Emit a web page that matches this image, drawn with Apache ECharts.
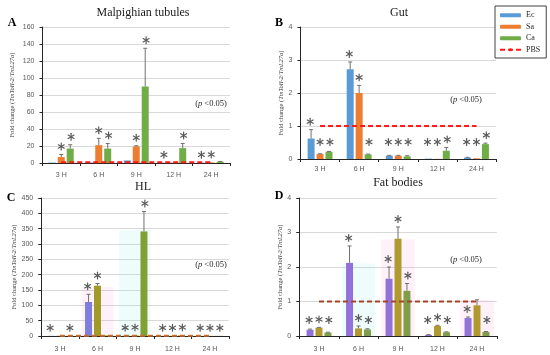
<!DOCTYPE html>
<html><head><meta charset="utf-8">
<script src="https://cdn.jsdelivr.net/npm/echarts@6/dist/echarts.min.js"></script>
<style>html,body{margin:0;padding:0;background:#fff}#c{width:550px;height:355px}</style>
</head><body><div id="c"></div>
<script>
const categories = ['3 H', '6 H', '9 H', '12 H', '24 H'];
const pbsLevel = [1, 1, 1, 1, 1];

// Panel A: Malpighian tubules
const A_Ec = [0.5, 0.6, 3, 0.3, 0.3];
const A_Ec_err = [0, 0, 0, 0, 0];
const A_Ec_sig = [0, 0, 0, 1, 1];
const A_Sa = [7, 21, 19.5, 0.5, 0.6];
const A_Sa_err = [3, 8, 0.8, 0, 0];
const A_Sa_sig = [1, 1, 1, 0, 1];
const A_Ca = [17, 17, 90, 17.5, 1.5];
const A_Ca_err = [4.5, 6, 45, 5.5, 0.3];
const A_Ca_sig = [1, 1, 1, 1, 0];
const A_ticks = [0, 20, 40, 60, 80, 100, 120, 140, 160];

// Panel B: Gut
const B_Ec = [0.62, 2.72, 0.1, 0.01, 0.04];
const B_Ec_err = [0.27, 0.22, 0.01, 0, 0.01];
const B_Ec_sig = [1, 1, 1, 1, 1];
const B_Sa = [0.15, 2.0, 0.1, 0.005, 0.02];
const B_Sa_err = [0.01, 0.23, 0.01, 0, 0];
const B_Sa_sig = [1, 1, 1, 1, 1];
const B_Ca = [0.22, 0.14, 0.08, 0.25, 0.45];
const B_Ca_err = [0.01, 0.01, 0.02, 0.1, 0.03];
const B_Ca_sig = [1, 1, 1, 1, 1];
const B_ticks = [0, 1, 2, 3, 4];

// Panel C: HL
const C_Ec = [0.5, 111, 1, 0.5, 0.5];
const C_Ec_err = [0, 25, 0, 0, 0];
const C_Ec_sig = [1, 1, 1, 1, 1];
const C_Sa = [1, 164, 2, 0.5, 0.5];
const C_Sa_err = [0, 7, 0, 0, 0];
const C_Sa_sig = [0, 1, 1, 1, 1];
const C_Ca = [0.5, 2, 341, 2, 0.5];
const C_Ca_err = [0, 0, 65, 0, 0];
const C_Ca_sig = [1, 0, 1, 1, 1];
const C_ticks = [0, 50, 100, 150, 200, 250, 300, 350, 400, 450];
// faint background tints seen in the scanned figure: [category index, top value]
const C_tintPink = [[1, 160]];
const C_tintCyan = [[2, 345]];

// Panel D: Fat bodies
const D_Ec = [0.18, 2.12, 1.66, 0.03, 0.52];
const D_Ec_err = [0.02, 0.49, 0.34, 0.01, 0.03];
const D_Ec_sig = [1, 1, 1, 1, 1];
const D_Sa = [0.24, 0.22, 2.82, 0.29, 0.89];
const D_Sa_err = [0.01, 0.07, 0.34, 0.02, 0.16];
const D_Sa_sig = [1, 1, 1, 1, 0];
const D_Ca = [0.1, 0.19, 1.31, 0.11, 0.12];
const D_Ca_err = [0.01, 0.02, 0.21, 0.01, 0.01];
const D_Ca_sig = [1, 1, 1, 1, 1];
const D_ticks = [0, 1, 2, 3, 4];
const D_tintPink = [[2, 2.8], [4, 1.05]];
const D_tintCyan = [[1, 2.1]];

const chart = echarts.init(document.getElementById('c'), null, {renderer: 'canvas'});

const BW = 7, GAP_PCT = 28;
const STEP = BW + BW * GAP_PCT / 100;
const OFFS = [-STEP, 0, STEP];
const STAR_SPREAD = 1.1;

const panels = [
  {grid: {left: 42.5, top: 27, width: 187.5, height: 136}, ticks: A_ticks, interval: 20,
   names: ['A-Ec', 'A-Sa', 'A-Ca', 'A-PBS'], colors: ['#5B9BD5', '#ED7D31', '#70AD47'], pbsColor: '#FF1A1A',
   vals: [A_Ec, A_Sa, A_Ca], errs: [A_Ec_err, A_Sa_err, A_Ca_err], sigs: [A_Ec_sig, A_Sa_sig, A_Ca_sig], minRise: 7, nameGap: 27, labelMargin: 9},
  {grid: {left: 300.5, top: 27, width: 195.5, height: 132}, ticks: B_ticks, interval: 1,
   names: ['Ec', 'Sa', 'Ca', 'PBS'], colors: ['#5B9BD5', '#ED7D31', '#70AD47'], pbsColor: '#FF1A1A',
   vals: [B_Ec, B_Sa, B_Ca], errs: [B_Ec_err, B_Sa_err, B_Ca_err], sigs: [B_Ec_sig, B_Sa_sig, B_Ca_sig], minRise: 17, nameGap: 16, labelMargin: 7},
  {grid: {left: 41.25, top: 198, width: 187.5, height: 138}, ticks: C_ticks, interval: 50,
   names: ['C-Ec', 'C-Sa', 'C-Ca', 'C-PBS'], colors: ['#7E7EDC', '#A09A28', '#80A034'], pbsColor: '#C8702A',
   vals: [C_Ec, C_Sa, C_Ca], errs: [C_Ec_err, C_Sa_err, C_Ca_err], sigs: [C_Ec_sig, C_Sa_sig, C_Ca_sig], minRise: 8, nameGap: 23, labelMargin: 10,
   tints: [[C_tintPink, 'rgba(255,120,200,0.10)'], [C_tintCyan, 'rgba(120,235,235,0.13)']]},
  {grid: {left: 299.25, top: 198, width: 197.5, height: 138}, ticks: D_ticks, interval: 1,
   names: ['D-Ec', 'D-Sa', 'D-Ca', 'D-PBS'], colors: ['#9272D8', '#B09A30', '#7F9E4A'], pbsColor: '#A2452A',
   vals: [D_Ec, D_Sa, D_Ca], errs: [D_Ec_err, D_Sa_err, D_Ca_err], sigs: [D_Ec_sig, D_Sa_sig, D_Ca_sig], minRise: 16, nameGap: 15, labelMargin: 10,
   tints: [[D_tintPink, 'rgba(255,120,200,0.10)'], [D_tintCyan, 'rgba(120,235,235,0.13)']]}
];

const grids = [], xAxes = [], yAxes = [], series = [];

function errStarSeries(gi, vals, errs, sig, offset, minRise) {
  return {
    type: 'custom', xAxisIndex: gi, yAxisIndex: gi, z: 6, silent: true,
    data: vals.map((v, i) => [i, v, errs[i], sig[i]]),
    renderItem(params, api) {
      const i = api.value(0), v = api.value(1), e = api.value(2), s = api.value(3);
      const base = api.coord([i, 0]);
      const bot = api.coord([i, v]);
      const top = api.coord([i, v + e]);
      const x = base[0] + offset;
      const ch = [];
      if (e > 0) {
        ch.push({type: 'line', shape: {x1: x, y1: bot[1], x2: x, y2: top[1]}, style: {stroke: '#707070', lineWidth: 1}});
        ch.push({type: 'line', shape: {x1: x - 2, y1: top[1], x2: x + 2, y2: top[1]}, style: {stroke: '#707070', lineWidth: 1}});
      }
      if (s) {
        const cy = Math.min(top[1] - 8, base[1] - minRise);
        const sx = base[0] + offset * STAR_SPREAD;
        const r = 3.4;
        [90, 30, 150].forEach(a => {
          const rad = a * Math.PI / 180;
          const dx = r * Math.cos(rad), dy = r * Math.sin(rad);
          ch.push({type: 'line', shape: {x1: sx - dx, y1: cy - dy, x2: sx + dx, y2: cy + dy},
                   style: {stroke: '#5a5a5a', lineWidth: 1.2, lineCap: 'round'}});
        });
      }
      return {type: 'group', children: ch};
    }
  };
}

function tintSeries(gi, list, color) {
  return {
    type: 'custom', xAxisIndex: gi, yAxisIndex: gi, z: 1, silent: true,
    data: list,
    renderItem(params, api) {
      const c0 = api.coord([api.value(0), 0]);
      const c1 = api.coord([api.value(0), api.value(1)]);
      const w = api.size([1, 0])[0] * 0.85;
      return {type: 'rect', shape: {x: c0[0] - w / 2, y: c1[1], width: w, height: c0[1] - c1[1]}, style: {fill: color}};
    }
  };
}

const yName = '{n|Fold change (}{i|TmToll-2/TmL27a}{n|)}';

panels.forEach((p, gi) => {
  grids.push(p.grid);
  xAxes.push({
    type: 'category', gridIndex: gi, data: categories,
    axisLine: {lineStyle: {color: '#262626', width: 1}},
    axisTick: {show: true, length: 3, lineStyle: {color: '#262626'}},
    axisLabel: {fontFamily: 'Liberation Sans', fontSize: 7, color: '#595959', margin: p.labelMargin}
  });
  yAxes.push({
    type: 'value', gridIndex: gi, min: 0, max: p.ticks[p.ticks.length - 1], interval: p.interval,
    axisLine: {show: true, lineStyle: {color: '#262626', width: 1}},
    axisTick: {show: true, length: 3, lineStyle: {color: '#262626'}},
    axisLabel: {fontFamily: 'Liberation Sans', fontSize: 7, color: '#595959', margin: 8},
    splitLine: {lineStyle: {color: '#d9d9d9', width: 1}},
    name: yName, nameLocation: 'middle', nameGap: p.nameGap, nameRotate: 90,
    nameTextStyle: {rich: {
      n: {fontFamily: 'Liberation Serif', fontSize: 6.5, color: '#404040'},
      i: {fontFamily: 'Liberation Serif', fontSize: 6.5, fontStyle: 'italic', color: '#404040'}
    }}
  });
  (p.tints || []).forEach(t => series.push(tintSeries(gi, t[0], t[1])));
  p.vals.forEach((vals, k) => {
    series.push({
      name: p.names[k], type: 'bar', xAxisIndex: gi, yAxisIndex: gi, data: vals,
      barWidth: BW, barGap: GAP_PCT + '%', itemStyle: {color: p.colors[k]}, z: 2
    });
  });
  series.push({
    name: p.names[3], type: 'line', xAxisIndex: gi, yAxisIndex: gi, data: pbsLevel,
    symbol: 'none', z: 4, itemStyle: {color: p.pbsColor},
    lineStyle: {color: p.pbsColor, width: 2, type: [5, 3]}
  });
  p.vals.forEach((vals, k) => {
    series.push(errStarSeries(gi, vals, p.errs[k], p.sigs[k], OFFS[k], p.minRise));
  });
});

const serif = 'Liberation Serif';
const pText = (x, y) => ({type: 'text', x, y, z: 10, style: {
  text: '{n|(}{i|p}{n| <0.05)}', align: 'center', verticalAlign: 'middle',
  rich: {n: {fontFamily: serif, fontSize: 8.5, fill: '#262626'}, i: {fontFamily: serif, fontSize: 8.5, fontStyle: 'italic', fill: '#262626'}}
}});
const tText = (x, y, t) => ({type: 'text', x, y, z: 10, style: {text: t, font: '12px ' + serif, fill: '#1a1a1a', align: 'center', verticalAlign: 'middle'}});
const lText = (x, y, t) => ({type: 'text', x, y, z: 10, style: {text: t, font: 'bold 12px ' + serif, fill: '#000', align: 'center', verticalAlign: 'middle'}});

chart.setOption({
  animation: false,
  grid: grids, xAxis: xAxes, yAxis: yAxes, series,
  legend: {
    data: ['Ec', 'Sa', 'Ca', 'PBS'], orient: 'vertical', left: 495, top: 6,
    itemWidth: 21, itemHeight: 4, itemGap: 3,
    borderColor: '#404040', borderWidth: 1, borderRadius: 0, padding: [5, 6, 4, 4],
    backgroundColor: '#fff',
    textStyle: {fontFamily: serif, fontSize: 8, color: '#262626', lineHeight: 8.5},
    selectedMode: false
  },
  graphic: [
    tText(143, 13, 'Malpighian tubules'), tText(399, 13, 'Gut'),
    tText(143, 187, 'HL'), tText(398, 183, 'Fat bodies'),
    lText(12, 23, 'A'), lText(279, 23, 'B'), lText(11, 198, 'C'), lText(279, 196, 'D'),
    pText(211, 104), pText(466, 100), pText(211, 265), pText(466, 260)
  ]
});
</script></body></html>
